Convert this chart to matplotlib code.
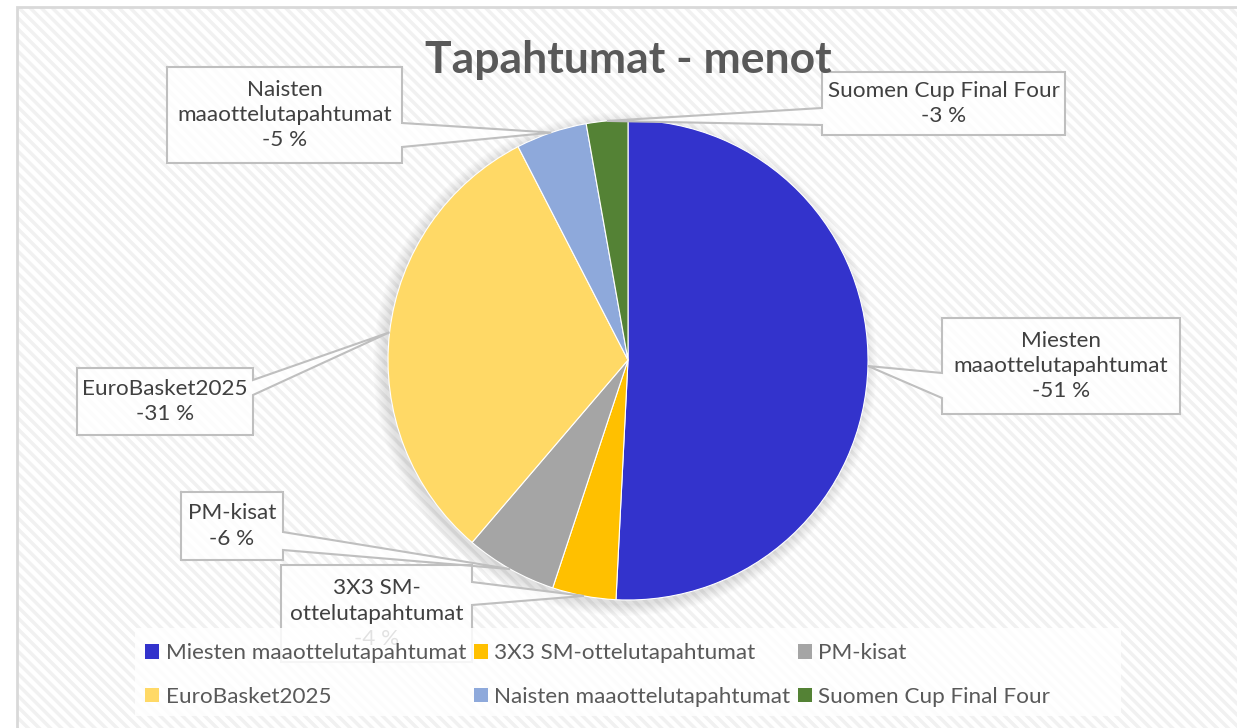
import numpy as np
import matplotlib
matplotlib.use("Agg")
import matplotlib.pyplot as plt
from matplotlib.patches import Rectangle, Polygon, Circle

# data: expenses per event, share of total (%)
tapahtumat = ["Miesten maaottelutapahtumat", "3X3 SM-ottelutapahtumat", "PM-kisat",
              "EuroBasket2025", "Naisten maaottelutapahtumat", "Suomen Cup Final Four"]
menot = [-51.0, -4.3, -6.2, -31.3, -4.8, -2.8]
label_texts = ["Miesten\nmaaottelutapahtumat", "3X3 SM-\nottelutapahtumat", "PM-kisat",
               "EuroBasket2025", "Naisten\nmaaottelutapahtumat", "Suomen Cup Final Four"]
colors = ["#3333CC", "#FFC000", "#A5A5A5", "#FFD966", "#8EA9DB", "#548235"]

# callout boxes in pixels (x0, y0, x1, y1, base top, base bottom, side facing the pie)
boxes = [(942, 318, 1180, 414, 373, 398, "left"),
         (281, 565, 472, 662, 582, 605, "right"),
         (181, 492, 283, 560, 532, 550, "right"),
         (77, 368, 253, 435, 380, 395, "right"),
         (167, 67, 402, 163, 123, 147, "right"),
         (822, 72, 1065, 135, 108, 125, "left")]

W, H = 1237, 728
CX, CY, R = 628, 360, 240
TXT = "#404040"

plt.rcParams["font.family"] = ["Lato", "DejaVu Sans"]
plt.rcParams["hatch.linewidth"] = 2.5

fig = plt.figure(figsize=(W / 100, H / 100), dpi=100)
ax = fig.add_axes([0, 0, 1, 1])
ax.set_xlim(0, W)
ax.set_ylim(0, H)
ax.axis("off")

def py(y):
    return H - y

# hatched chart area with border
ax.add_patch(Rectangle((17, py(740)), W, 733, facecolor="white", edgecolor="#F1F1F1",
                       hatch="\\\\\\", linewidth=0, zorder=0))
ax.add_patch(Rectangle((17, py(740)), W, 733, facecolor="none", edgecolor="#D9D9D9",
                       linewidth=2, zorder=0.5))

# soft shadow round the pie
for i in range(10):
    ax.add_patch(Circle((CX - 3, py(CY + 4)), R + 1 + i * 1.2, facecolor="#808080",
                        edgecolor="none", alpha=0.025, zorder=1))

shares = np.abs(menot) / np.abs(menot).sum() * 100
wedges, _ = ax.pie(np.abs(menot), colors=colors, startangle=90, counterclock=False,
                   center=(CX, py(CY)), radius=R, frame=True,
                   wedgeprops=dict(edgecolor="white", linewidth=0.8, zorder=2))
ax.set_xlim(0, W)
ax.set_ylim(0, H)
ax.axis("off")

# callouts
for w, txt, s, b in zip(wedges, label_texts, shares, boxes):
    x0, y0, x1, y1, b0, b1, side = b
    mid = np.deg2rad((w.theta1 + w.theta2) / 2)
    tip = (CX + R * np.cos(mid), py(CY) + R * np.sin(mid))
    if side == "right":
        pts = [(x0, y0), (x1, y0), (x1, b0), None, (x1, b1), (x1, y1), (x0, y1)]
    else:
        pts = [(x0, y0), (x1, y0), (x1, y1), (x0, y1), (x0, b1), None, (x0, b0)]
    poly = [tip if p is None else (p[0], py(p[1])) for p in pts]
    ax.add_patch(Polygon(poly, closed=True, facecolor="white", alpha=0.8,
                         edgecolor="none", zorder=3))
    ax.add_patch(Polygon(poly, closed=True, facecolor="none", edgecolor="#BFBFBF",
                         linewidth=1.5, zorder=3.1))
    ax.text((x0 + x1) / 2, py((y0 + y1) / 2), "%s\n-%d %%" % (txt, round(s)),
            ha="center", va="center", fontsize=16.2, color=TXT, linespacing=1.33, zorder=4)

# legend band
ax.add_patch(Rectangle((135, py(716)), 986, 88, facecolor="white", alpha=0.85,
                       edgecolor="none", zorder=5))

handles = [Rectangle((0, 0), 1, 1, facecolor=c, edgecolor="none") for c in colors]
order = [0, 3, 1, 4, 2, 5]
leg = fig.legend([handles[i] for i in order], [tapahtumat[i] for i in order],
                 ncol=3, loc="upper left", bbox_to_anchor=(134 / W, 1 - 632 / H),
                 frameon=False, fontsize=16.2, handlelength=0.62, handleheight=0.62,
                 handletextpad=0.28, columnspacing=0.35, labelspacing=1.05,
                 borderpad=0.0)
for t in leg.get_texts():
    t.set_color("#595959")
leg.set_zorder(6)

fig.text(628 / W, 1 - 73 / H, "Tapahtumat - menot", ha="center", va="baseline",
         fontsize=32, fontweight="bold", color="#595959")

fig.savefig("out.png", dpi=100)
